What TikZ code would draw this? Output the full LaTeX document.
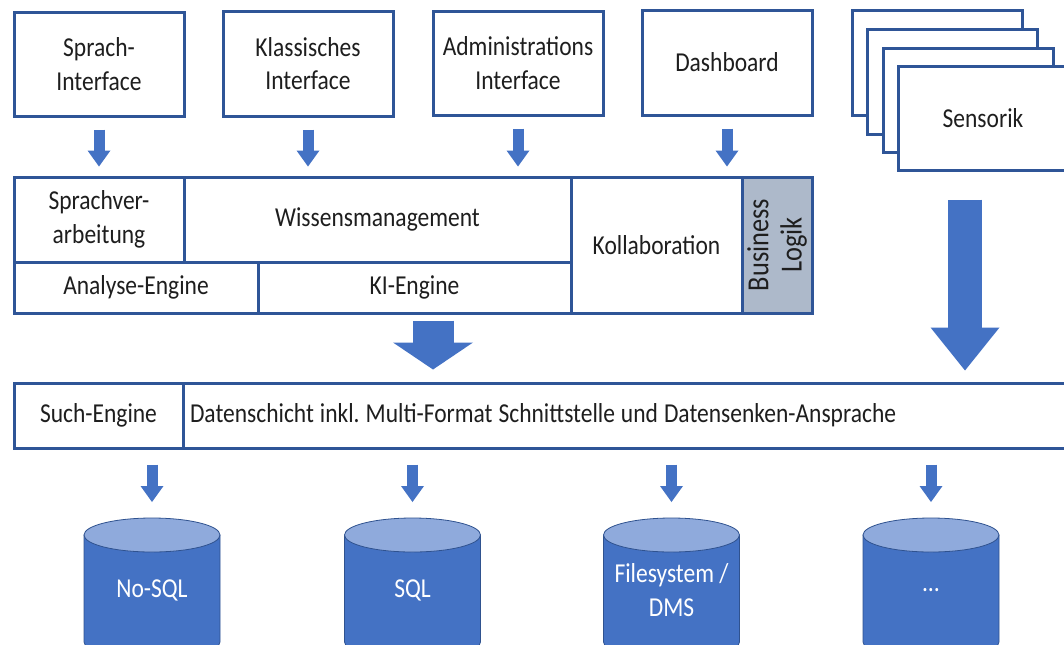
\documentclass[tikz,border=0pt]{standalone}
\usepackage{fontspec}
\setmainfont{Carlito}[FakeStretch=0.86]
\frenchspacing
\usetikzlibrary{arrows.meta,calc,positioning}
\definecolor{ink}{HTML}{1E1E1E}
\definecolor{boxblue}{HTML}{2F5597}
\definecolor{arrowblue}{HTML}{4472C4}
\definecolor{dbtop}{HTML}{8FAADC}
\definecolor{dbline}{HTML}{2F528F}
\definecolor{logikgray}{HTML}{ADB9CA}
\tikzset{
  layerbox/.style={draw=boxblue,fill=white,line width=2.25pt,align=center,inner sep=0pt,text=ink,font=\fontsize{20.5}{25}\selectfont},
  smallarr/.style={draw=arrowblue,line width=8.25pt,-{Triangle[length=12pt,width=17.25pt,line width=0pt]}},
  midarr/.style={draw=arrowblue,line width=30.75pt,-{Triangle[length=20.25pt,width=60pt,line width=0pt]}},
  sensarr/.style={draw=arrowblue,line width=25.5pt,-{Triangle[length=32.25pt,width=51.75pt,line width=0pt]}},
  dbtext/.style={align=center,text=white,font=\fontsize{20.5}{25}\selectfont}
}
\begin{document}
\begin{tikzpicture}[x=0.75pt,y=-0.75pt]
  \useasboundingbox (0,0) rectangle (1064,644);
  \clip (0,0) rectangle (1064,644);
  % interfaces
  \node[layerbox,minimum width=127.5pt,minimum height=78pt] (sprach) at (99,64) {Sprach-\\Interface};
  \node[layerbox,minimum width=127.5pt,minimum height=78.75pt] (klass) at (308,63.5) {Klassisches\\Interface};
  \node[layerbox,minimum width=127.5pt,minimum height=78pt] (admin) at (518,63) {Administrations\\Interface};
  \node[layerbox,minimum width=127.5pt,minimum height=78.75pt] (dash) at (727,62.5) {Dashboard};
  % sensor stack
  \node[layerbox,minimum width=127.5pt,minimum height=78.75pt] (sens1) at (937,62.5) {};
  \node[layerbox,minimum width=127.5pt,minimum height=78.75pt] (sens2) at (952.5,81.5) {};
  \node[layerbox,minimum width=127.5pt,minimum height=78pt] (sens3) at (968,100) {};
  \node[layerbox,minimum width=127.5pt,minimum height=78pt] (sens4) at (983,118) {Sensorik};
  % logic layer
  \node[layerbox,minimum width=127.5pt,minimum height=63.75pt] (sprachv) at (99,219.5) {Sprachver-\\arbeitung};
  \node[layerbox,minimum width=290.25pt,minimum height=63.75pt] (wissen) at (377.5,219.5) {Wissensmanagement};
  \node[layerbox,minimum width=183pt,minimum height=38.25pt] (analyse) at (136,287.5) {Analyse-Engine};
  \node[layerbox,minimum width=234.75pt,minimum height=38.25pt] (kieng) at (414.5,287.5) {KI-Engine};
  \node[layerbox,minimum width=128.25pt,minimum height=102pt] (kollab) at (656.5,245) {Kollaboration};
  \node[layerbox,fill=logikgray,rotate=90,minimum width=102pt,minimum height=52.5pt,font=\fontsize{23}{25}\selectfont] (logik) at (777,245) {Business\\Logik};
  % data layer
  \node[layerbox,minimum width=126.75pt,minimum height=48.75pt] (such) at (98.5,415.5) {Such-Engine};
  \node[layerbox,minimum width=672.75pt,minimum height=48.75pt,text width=662.25pt,inner xsep=5.25pt,align=left] (daten) at (631.5,415.5) {\spaceskip=4.5pt\relax Datenschicht inkl. Multi-Format Schnittstelle und Datensenken-Ansprache};
  % stores
  \foreach \dbx/\dbname/\dblabel in {152/nosql/No-SQL,412.5/sql/SQL,671.5/fsys/{Filesystem /\\DMS},931/misc/{\ldots}}{
    \filldraw[fill=arrowblue,draw=dbline,line width=0.6pt] (\dbx-68,535) -- (\dbx-68,642) arc (180:0:68 and 17) -- (\dbx+68,535) -- cycle;
    \filldraw[fill=dbtop,draw=dbline,line width=0.6pt] (\dbx,535) ellipse (68 and 17);
    \coordinate (\dbname-top) at (\dbx,518);
    \node[dbtext] (\dbname) at (\dbx,590) {\dblabel};
  }
  % arrows
  \coordinate (midflow) at ($(kieng.south)+(18.5,0)$);
  \coordinate (sensflow) at ($(sens4.south)+(-18,0)$);
  \draw[smallarr,shorten <=9pt,shorten >=6.75pt] (sprach.south) -- (sprachv.north);
  \draw[smallarr,shorten <=9pt,shorten >=6.75pt] (klass.south) -- (klass.south |- wissen.north);
  \draw[smallarr,shorten <=9pt,shorten >=6.75pt] (admin.south) -- (admin.south |- wissen.north);
  \draw[smallarr,shorten <=9pt,shorten >=6.75pt] (dash.south) -- (dash.south |- kollab.north);
  \draw[midarr,shorten <=4.5pt,shorten >=9pt] (midflow) -- (midflow |- daten.north);
  \draw[sensarr,shorten <=21pt,shorten >=8.25pt] (sensflow) -- (sensflow |- daten.north);
  \foreach \dbname in {nosql,sql,fsys,misc}{
    \draw[smallarr,shorten <=11.25pt,shorten >=12pt] (daten.south -| \dbname-top) -- (\dbname-top);
  }
\end{tikzpicture}
\end{document}
